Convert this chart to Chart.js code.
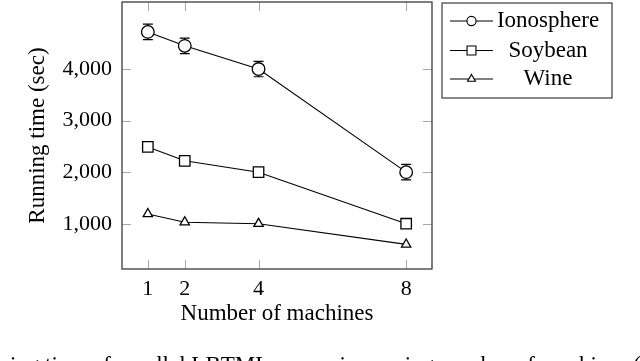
<!DOCTYPE html>
<html>
<head>
<meta charset="utf-8">
<script src="https://cdn.jsdelivr.net/npm/chart.js@4.4.1/dist/chart.umd.min.js"></script>
<style>
  html, body { margin: 0; padding: 0; background: #fff; }
  #wrap { width: 640px; height: 361px; }
</style>
</head>
<body>
<div id="wrap"><canvas id="runChart" width="640" height="361"></canvas></div>
<script>
// ============ DATA ============
const machines = [1, 2, 4, 8];
const ionosphere = [4720, 4450, 4000, 2000];
const ionosphereErr = [150, 150, 150, 150];
const soybean = [2490, 2220, 2000, 1000];
const wine = [1190, 1030, 1000, 600];
const yTicks = [1000, 2000, 3000, 4000];
const seriesNames = ['Ionosphere', 'Soybean', 'Wine'];
const captionText = 'Running time of parallel LBTML versus increasing number of machines (';

const SERIF = '"Liberation Serif", "Times New Roman", serif';
const INK = '#000';
const FRAME = '#3a3a3a';
const TICK_GREY = '#a8a8a8';

function toPoints(ys) {
    return machines.map((m, i) => ({ x: m, y: ys[i] }));
}

function seriesStyle(style, radius) {
    return {
        borderColor: INK,
        borderWidth: 1.1,
        pointStyle: style,
        pointRadius: radius,
        pointHoverRadius: radius,
        pointBackgroundColor: '#fff',
        pointBorderColor: INK,
        pointBorderWidth: 1.3,
        tension: 0,
        fill: false
    };
}

// ============ PLUGINS ============
// vertical error bars, drawn under the markers
const errorBars = {
    id: 'errorBars',
    beforeDatasetsDraw(chart) {
        const { ctx, scales: { x, y } } = chart;
        ctx.save();
        ctx.strokeStyle = INK;
        ctx.lineWidth = 1.2;
        chart.data.datasets.forEach(ds => {
            if (!ds.errors) return;
            ds.data.forEach((p, i) => {
                const px = x.getPixelForValue(p.x);
                const hi = y.getPixelForValue(p.y + ds.errors[i]);
                const lo = y.getPixelForValue(p.y - ds.errors[i]);
                ctx.beginPath();
                ctx.moveTo(px, hi); ctx.lineTo(px, lo);
                ctx.moveTo(px - 5, hi); ctx.lineTo(px + 5, hi);
                ctx.moveTo(px - 5, lo); ctx.lineTo(px + 5, lo);
                ctx.stroke();
            });
        });
        ctx.restore();
    }
};

// pgfplots style box: inward tick marks on all four sides + frame
const axisFrame = {
    id: 'axisFrame',
    beforeDatasetsDraw(chart) {
        const { ctx, chartArea: a, scales: { x, y } } = chart;
        const len = 9;
        ctx.save();
        ctx.strokeStyle = TICK_GREY;
        ctx.lineWidth = 1;
        ctx.beginPath();
        x.ticks.forEach(t => {
            const px = Math.round(x.getPixelForValue(t.value)) + 0.5;
            ctx.moveTo(px, a.bottom); ctx.lineTo(px, a.bottom - len);
            ctx.moveTo(px, a.top); ctx.lineTo(px, a.top + len);
        });
        y.ticks.forEach(t => {
            const py = Math.round(y.getPixelForValue(t.value)) + 0.5;
            ctx.moveTo(a.left, py); ctx.lineTo(a.left + len, py);
            ctx.moveTo(a.right, py); ctx.lineTo(a.right - len, py);
        });
        ctx.stroke();
        ctx.restore();
    },
    afterDraw(chart) {
        const { ctx, chartArea: a } = chart;
        ctx.save();
        ctx.strokeStyle = FRAME;
        ctx.lineWidth = 1.3;
        ctx.strokeRect(a.left, a.top, a.right - a.left, a.bottom - a.top);
        ctx.restore();
    }
};

// boxed legend to the right of the plot
const boxLegend = {
    id: 'boxLegend',
    afterDraw(chart) {
        const { ctx } = chart;
        const box = { x: 442, y: 3, w: 170, h: 95 };
        const rows = [21, 50.5, 79];
        const sizes = [4.6, 6.3, 4.6];
        ctx.save();
        ctx.fillStyle = '#fff';
        ctx.fillRect(box.x, box.y, box.w, box.h);
        ctx.strokeStyle = FRAME;
        ctx.lineWidth = 1.2;
        ctx.strokeRect(box.x, box.y, box.w, box.h);

        chart.data.datasets.forEach((ds, i) => {
            const yy = rows[i];
            ctx.strokeStyle = INK;
            ctx.lineWidth = 1.1;
            ctx.beginPath();
            ctx.moveTo(450, yy); ctx.lineTo(493, yy);
            ctx.stroke();
            ctx.fillStyle = '#fff';
            ctx.strokeStyle = INK;
            ctx.lineWidth = 1.1;
            Chart.helpers.drawPoint(ctx, {
                pointStyle: ds.pointStyle, radius: sizes[i], rotation: 0, borderWidth: 1.1
            }, 471.5, yy);

            ctx.fillStyle = INK;
            ctx.font = `23px ${SERIF}`;
            ctx.textAlign = 'center';
            ctx.textBaseline = 'middle';
            ctx.fillText(ds.label, 548, yy);
        });
        ctx.restore();
    }
};

// the figure caption, cut off by the bottom edge as in the source
const caption = {
    id: 'caption',
    afterDraw(chart) {
        const { ctx } = chart;
        ctx.save();
        ctx.fillStyle = INK;
        ctx.font = `23px ${SERIF}`;
        ctx.textAlign = 'right';
        ctx.textBaseline = 'alphabetic';
        ctx.fillText(captionText, 641, 372);
        ctx.restore();
    }
};

// ============ CHART ============
const datasets = [
    { label: seriesNames[0], data: toPoints(ionosphere), errors: ionosphereErr, ...seriesStyle('circle', 6.3) },
    { label: seriesNames[1], data: toPoints(soybean), ...seriesStyle('rect', 7.4) },
    { label: seriesNames[2], data: toPoints(wine), ...seriesStyle('triangle', 5.4) }
];

new Chart(document.getElementById('runChart'), {
    type: 'line',
    data: { datasets },
    options: {
        responsive: false,
        animation: false,
        layout: { autoPadding: false, padding: { left: 0, top: 2, right: 208, bottom: 25 } },
        plugins: {
            legend: { display: false },
            tooltip: { enabled: false }
        },
        scales: {
            x: {
                type: 'linear',
                min: 0.3,
                max: 8.7,
                afterBuildTicks: s => { s.ticks = machines.map(v => ({ value: v })); },
                ticks: {
                    color: INK,
                    font: { family: SERIF, size: 22 },
                    padding: 7,
                    maxRotation: 0,
                    autoSkip: false
                },
                grid: { display: false, drawTicks: false },
                border: { display: false },
                title: {
                    display: true,
                    text: 'Number of machines',
                    color: INK,
                    font: { family: SERIF, size: 23 },
                    padding: { top: 0, bottom: 8 }
                },
                afterFit: s => { s.height = 67; s.paddingLeft = 0; s.paddingRight = 0; }
            },
            y: {
                type: 'linear',
                min: 122,
                max: 5300,
                afterBuildTicks: s => { s.ticks = yTicks.map(v => ({ value: v })); },
                ticks: {
                    color: INK,
                    font: { family: SERIF, size: 22 },
                    padding: 10,
                    callback: v => v.toLocaleString('en-US')
                },
                grid: { display: false, drawTicks: false },
                border: { display: false },
                title: {
                    display: true,
                    text: 'Running time (sec)',
                    color: INK,
                    font: { family: SERIF, size: 23 },
                    padding: { top: 24, bottom: 0 }
                },
                afterFit: s => { s.width = 122; s.paddingTop = 0; s.paddingBottom = 0; }
            }
        }
    },
    plugins: [errorBars, axisFrame, boxLegend, caption]
});
</script>
</body>
</html>
